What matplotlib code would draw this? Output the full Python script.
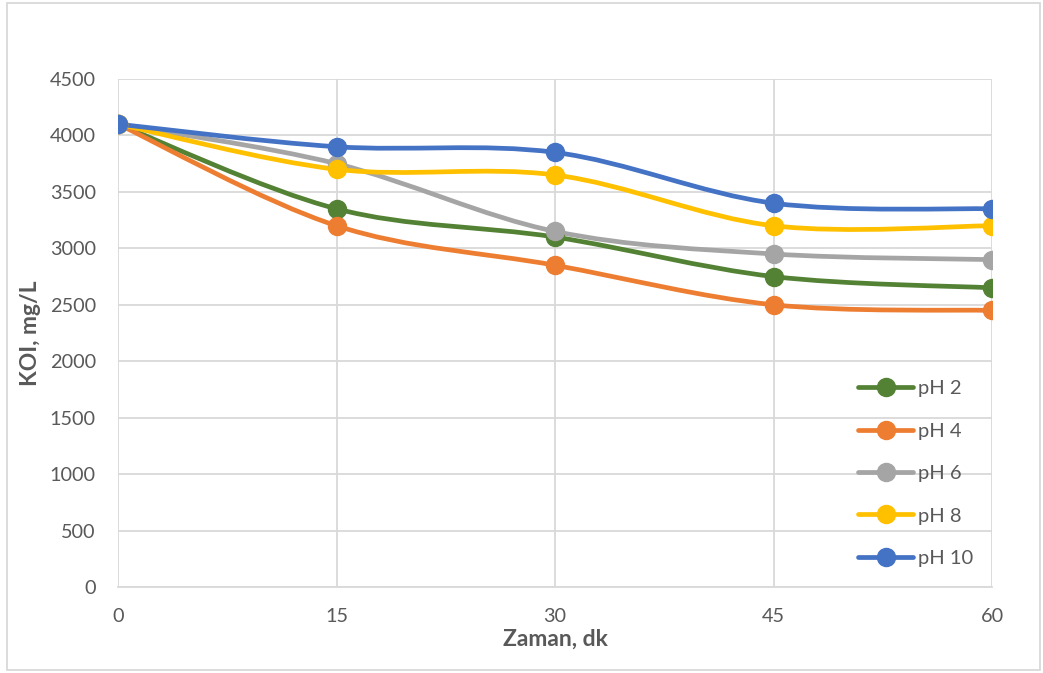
import matplotlib
matplotlib.use('Agg')
import matplotlib.pyplot as plt
import numpy as np
from matplotlib.path import Path
from matplotlib.patches import PathPatch, Rectangle
from matplotlib.lines import Line2D

plt.rcParams['font.family'] = ['Lato', 'DejaVu Sans']

time_min = [0, 15, 30, 45, 60]
ph2 = [4100, 3350, 3100, 2750, 2650]
ph4 = [4100, 3200, 2850, 2500, 2450]
ph6 = [4100, 3750, 3150, 2950, 2900]
ph8 = [4100, 3700, 3650, 3200, 3200]
ph10 = [4100, 3900, 3850, 3400, 3350]
labels = ['pH 2', 'pH 4', 'pH 6', 'pH 8', 'pH 10']
colors = ['#548235', '#ED7D31', '#A5A5A5', '#FFC000', '#4472C4']

text_col = '#595959'
grid_col = '#D9D9D9'


def smooth_path(x, y):
    # excel-like smoothing: catmull-rom turned into cubic bezier segments
    p = np.column_stack([x, y]).astype(float)
    ext = np.vstack([p[0], p, p[-1]])
    verts = [p[0]]
    codes = [Path.MOVETO]
    for i in range(len(p) - 1):
        p0, p1, p2, p3 = ext[i], ext[i + 1], ext[i + 2], ext[i + 3]
        c1 = p1 + (p2 - p0) / 6
        c2 = p2 - (p3 - p1) / 6
        verts += [c1, c2, p2]
        codes += [Path.CURVE4] * 3
    return Path(verts, codes)


fig = plt.figure(figsize=(10.43, 6.73), dpi=100)
ax = fig.add_axes([118 / 1043, 1 - 587 / 673, 874 / 1043, 508 / 673])

series = [ph2, ph4, ph6, ph8, ph10]
handles = []
for vals, lab, c in zip(series, labels, colors):
    patch = PathPatch(smooth_path(time_min, vals), facecolor='none', edgecolor=c,
                      lw=3.4, capstyle='round', joinstyle='round', zorder=3)
    ax.add_patch(patch)
    ax.plot(time_min, vals, 'o', color=c, markersize=13, zorder=4)
    handles.append(Line2D([], [], color=c, lw=3.4, marker='o', markersize=13,
                          solid_capstyle='round'))

ax.set_xlim(0, 60)
ax.set_ylim(0, 4500)
ax.set_xticks(time_min)
ax.set_yticks(np.arange(0, 4501, 500))
ax.grid(True, color=grid_col, lw=1.3, zorder=0)
ax.set_axisbelow(True)
for s in ['top', 'right', 'left']:
    ax.spines[s].set_visible(False)
ax.spines['bottom'].set_color(grid_col)
ax.spines['bottom'].set_linewidth(1.3)
ax.tick_params(axis='both', length=0, labelsize=14.3, colors=text_col)
ax.tick_params(axis='x', pad=15)
ax.tick_params(axis='y', pad=16)

ax.set_xlabel('Zaman, dk', fontsize=16.5, fontweight='bold', color=text_col, labelpad=3)
ax.set_ylabel('KOI, mg/L', fontsize=16.5, fontweight='bold', color=text_col, labelpad=6)

ax.legend(handles=handles, labels=labels, loc='upper left',
          bbox_to_anchor=((858 - 118) / 874, (587 - 380) / 508),
          frameon=False, fontsize=14.5, labelcolor=text_col,
          handlelength=2.75, handletextpad=0.25, labelspacing=1.26,
          borderpad=0, borderaxespad=0)

fig.patches.append(Rectangle((7 / 1043, 3 / 673), 1033 / 1043, 667 / 673,
                             transform=fig.transFigure, fill=False,
                             edgecolor=grid_col, lw=1.3))

fig.savefig('out.png', dpi=100, facecolor='white')
